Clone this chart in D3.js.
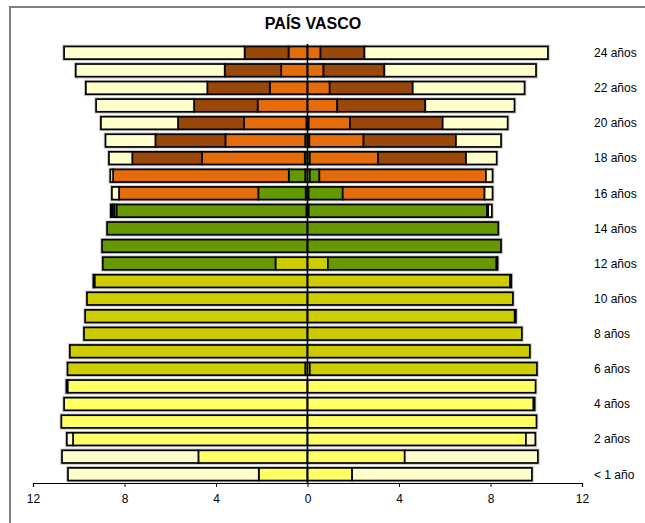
<!DOCTYPE html>
<html><head><meta charset="utf-8">
<script src="https://cdn.jsdelivr.net/npm/d3@7"></script>
<style>body{margin:0;background:#fff}svg{display:block}text{font-family:Arial,"Liberation Sans",sans-serif}</style>
</head><body>
<svg id="c" width="645" height="523"></svg>
<script>
const edades = ["< 1 año","1 año","2 años","3 años","4 años","5 años","6 años","7 años","8 años","9 años","10 años","11 años","12 años","13 años","14 años","15 años","16 años","17 años","18 años","19 años","20 años","21 años","22 años","23 años","24 años"];
const niveles = ["Educación Infantil","Primaria","ESO","Bachillerato / FP","Universidad","No escolarizado"];
const colores = ["#FFFF66","#CCCC00","#669900","#E46C0A","#99480A","#FFFFCC"];
const etiquetasEje = ["< 1 año","2 años","4 años","6 años","8 años","10 años","12 años","14 años","16 años","18 años","20 años","22 años","24 años"];
const ticksX = [-12,-8,-4,0,4,8,12];

// Izquierda
const izqInfantil = [2.13,4.77,10.25,10.76,10.64,10.49,0.1,0,0,0,0,0,0,0,0,0,0,0,0,0,0,0,0,0,0];
const izqPrimaria = [0,0,0,0,0,0.05,10.39,10.39,9.77,9.72,9.64,9.31,1.40,0,0,0.05,0.08,0.1,0,0,0,0,0,0,0];
const izqESO      = [0,0,0,0,0,0,0,0,0,0,0,0.05,7.55,8.98,8.76,8.3,2.07,0.72,0.12,0.1,0.05,0,0,0,0];
const izqBachFP   = [0,0,0,0,0,0,0,0,0,0,0,0,0,0,0,0.1,6.09,7.68,4.49,3.49,2.72,2.18,1.65,1.15,0.83];
const izqUniv     = [0,0,0,0,0,0,0,0,0,0,0,0,0,0,0,0.08,0,0,3.05,3.06,2.89,2.78,2.73,2.47,1.92];
const izqNoEsc    = [8.34,5.96,0.27,0,0,0,0,0,0,0,0,0,0,0,0,0.07,0.31,0.12,1.02,2.18,3.37,4.28,5.31,6.51,7.89];
// Derecha
const derInfantil = [1.95,4.25,9.55,10.01,9.88,9.97,0.1,0,0,0,0,0,0,0,0,0,0,0,0,0,0,0,0,0,0];
const derPrimaria = [0,0,0,0,0.05,0,9.93,9.72,9.37,9.06,8.98,8.86,0.89,0,0,0.05,0.05,0.1,0,0,0,0,0,0,0];
const derESO      = [0,0,0,0,0,0,0,0,0,0.05,0,0.05,7.37,8.46,8.34,7.8,1.49,0.42,0.1,0.08,0.05,0,0,0,0];
const derBachFP   = [0,0,0,0,0,0,0,0,0,0,0,0,0.05,0,0,0.05,6.2,7.28,2.99,2.37,1.81,1.30,0.97,0.70,0.57];
const derUniv     = [0,0,0,0,0,0,0,0,0,0,0,0,0,0,0,0,0,0,3.84,4.04,4.05,3.85,3.63,2.66,1.92];
const derNoEsc    = [7.86,5.82,0.41,0,0,0,0,0,0,0,0,0,0,0,0,0.16,0.35,0.29,1.34,1.97,2.84,3.90,4.89,6.63,8.02];

const izq = [izqInfantil,izqPrimaria,izqESO,izqBachFP,izqUniv,izqNoEsc];
const der = [derInfantil,derPrimaria,derESO,derBachFP,derUniv,derNoEsc];

const svg = d3.select("#c");
// marco
svg.append("rect").attr("x",10).attr("y",7).attr("width",700).attr("height",600)
  .attr("fill","none").attr("stroke","#808080").attr("stroke-width",2);

const x = d3.scaleLinear().domain([-12,12]).range([33,582]);
const y = d3.scaleBand().domain(edades.slice().reverse()).range([44,483]).paddingInner(0.28).paddingOuter(0.14);

function tabla(arrs){
  return edades.map((e,i)=>{const o={edad:e}; niveles.forEach((n,k)=>o[n]=arrs[k][i]); return o;});
}
const stack = d3.stack().keys(niveles);
const lados = [{datos:stack(tabla(izq)),s:-1},{datos:stack(tabla(der)),s:1}];

const g = svg.append("g");
// halo gris de las barras
lados.forEach(l=>{
  const tot = l.datos[l.datos.length-1];
  g.selectAll(null).data(tot).enter().append("rect")
    .attr("x",d=>Math.min(x(0),x(l.s*d[1])))
    .attr("width",d=>Math.abs(x(l.s*d[1])-x(0)))
    .attr("y",d=>y(d.data.edad)).attr("height",y.bandwidth())
    .attr("fill","none").attr("stroke","#c8c8c8").attr("stroke-width",3.6);
});
lados.forEach(l=>{
  l.datos.forEach((serie,k)=>{
    g.selectAll(null).data(serie.filter(d=>d[1]-d[0]>0)).enter().append("rect")
      .attr("x",d=>Math.min(x(l.s*d[0]),x(l.s*d[1])))
      .attr("width",d=>Math.abs(x(l.s*d[1])-x(l.s*d[0])))
      .attr("y",d=>y(d.data.edad))
      .attr("height",y.bandwidth())
      .attr("fill",colores[k]).attr("stroke","#000").attr("stroke-width",1.7);
  });
});

// línea central
svg.append("line").attr("x1",x(0)).attr("x2",x(0)).attr("y1",44).attr("y2",483)
  .attr("stroke","#000").attr("stroke-width",1.5);

// eje X
const ax = svg.append("g").attr("transform","translate(0,483)")
  .call(d3.axisBottom(x).tickValues(ticksX).tickFormat(d=>Math.abs(d)).tickSizeOuter(0).tickSize(4));
ax.select(".domain").attr("stroke","#000").attr("stroke-width",1.2);
ax.selectAll(".tick line").attr("stroke","#000");
ax.selectAll("text").attr("font-size",12).attr("fill","#000").attr("dy","1.05em").attr("font-family","Arial, 'Liberation Sans', sans-serif");

// etiquetas de edad
svg.append("g").selectAll("text").data(etiquetasEje).enter().append("text")
  .attr("x",594).attr("y",d=>y(d)+y.bandwidth()/2).attr("dy","0.36em")
  .attr("font-size",12).attr("fill","#000").text(d=>d);

// título
svg.append("text").attr("x",313).attr("y",29).attr("text-anchor","middle")
  .attr("font-size",16).attr("font-weight","bold").text("PAÍS VASCO");
</script>
</body></html>
